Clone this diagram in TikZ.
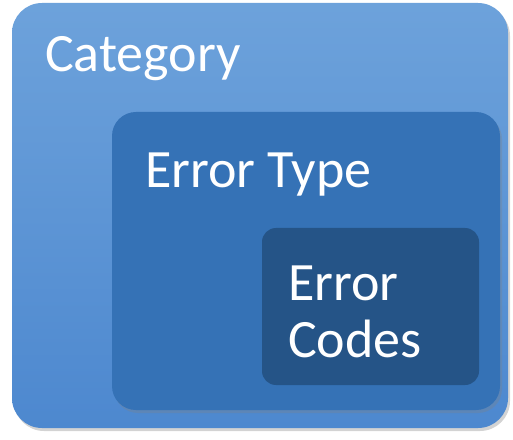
\documentclass[tikz,border=0pt]{standalone}
\usepackage{fontspec}
\setmainfont{Carlito}
\usetikzlibrary{shadows}
\definecolor{catbluetop}{HTML}{6DA2DB}
\definecolor{catbluebot}{HTML}{4D88CF}
\definecolor{typeblue}{HTML}{3572B6}
\definecolor{codeblue}{HTML}{255487}
\begin{document}
\begin{tikzpicture}[
  box/.style={draw=none,rounded corners=#1,inner sep=0pt},
  label/.style={draw=none,text=white,anchor=base west,inner sep=0pt,font=\fontsize{54}{57}\selectfont}
]
\useasboundingbox (0pt,0pt) rectangle (513pt,439pt);
\node[box=30pt,minimum width=496pt,minimum height=425pt,top color=catbluetop,bottom color=catbluebot,drop shadow={shadow xshift=2pt,shadow yshift=-3pt,opacity=0.35}] (category) at (260pt,223.5pt) {};
\node[box=24pt,minimum width=388pt,minimum height=298pt,fill=typeblue,drop shadow={shadow xshift=2pt,shadow yshift=-3pt,opacity=0.3}] (errtype) at (306pt,178pt) {};
\node[box=14pt,minimum width=217pt,minimum height=157pt,fill=codeblue] (errcodes) at (370.5pt,132.5pt) {};
\node[label] (cattext) at (45pt,367pt) {Category};
\node[label] (typetext) at (145pt,251pt) {Error Type};
\node[label,align=left] (codetext) at (288pt,82pt) {Error\\Codes};
\end{tikzpicture}
\end{document}
